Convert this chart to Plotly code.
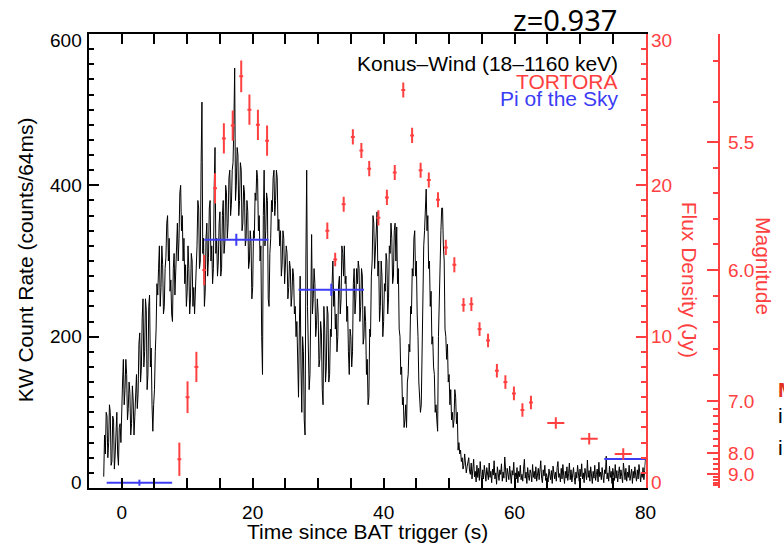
import plotly.graph_objects as go

# Konus-Wind light curve (18-1160 keV), counts per 64 ms.
# One row per second of data, 8 samples per row (0.125 s apart), first row starts at -2.75 s.
KW_T0 = -2.75
KW_STEP = 0.125
kw_rows = [
    [15, 70, 45, 100, 95, 40, 60, 110],
    [100, 30, 35, 95, 90, 25, 45, 95],
    [100, 45, 30, 80, 85, 60, 125, 140],
    [170, 110, 130, 170, 150, 90, 105, 140],
    [125, 70, 85, 135, 115, 70, 95, 130],
    [150, 105, 125, 190, 205, 140, 160, 225],
    [250, 160, 180, 250, 235, 130, 150, 240],
    [255, 160, 185, 110, 75, 110, 130, 180],
    [210, 270, 255, 290, 320, 240, 265, 320],
    [295, 230, 240, 290, 305, 350, 360, 300],
    [330, 260, 275, 230, 220, 290, 310, 255],
    [285, 340, 350, 300, 330, 390, 400, 340],
    [360, 300, 330, 270, 295, 240, 260, 320],
    [290, 230, 250, 310, 300, 240, 265, 230],
    [255, 300, 320, 380, 370, 290, 300, 430],
    [510, 310, 330, 240, 260, 330, 350, 280],
    [305, 370, 380, 300, 320, 270, 290, 400],
    [450, 310, 330, 280, 300, 350, 365, 280],
    [290, 360, 380, 310, 325, 400, 390, 330],
    [350, 410, 420, 360, 375, 420, 430, 480],
    [555, 380, 400, 450, 440, 360, 380, 430],
    [420, 340, 350, 400, 390, 320, 330, 380],
    [365, 290, 300, 340, 325, 250, 265, 340],
    [330, 390, 380, 420, 410, 340, 360, 300],
    [320, 200, 150, 360, 420, 320, 340, 390],
    [380, 250, 240, 310, 330, 380, 365, 410],
    [420, 360, 380, 420, 410, 340, 355, 320],
    [340, 280, 295, 340, 330, 270, 290, 320],
    [310, 250, 265, 300, 290, 240, 255, 290],
    [280, 230, 240, 200, 220, 150, 120, 210],
    [280, 160, 100, 200, 180, 90, 70, 300],
    [420, 240, 200, 130, 150, 290, 335, 230],
    [250, 290, 270, 200, 215, 250, 230, 160],
    [170, 220, 205, 130, 110, 240, 210, 140],
    [160, 240, 230, 140, 150, 210, 200, 270],
    [300, 240, 260, 210, 230, 180, 200, 270],
    [280, 230, 250, 320, 310, 280, 320, 270],
    [280, 220, 240, 180, 150, 210, 200, 160],
    [180, 270, 290, 230, 250, 290, 270, 300],
    [290, 220, 240, 290, 280, 190, 200, 240],
    [220, 150, 170, 110, 120, 210, 200, 280],
    [300, 360, 350, 290, 310, 340, 365, 280],
    [300, 220, 240, 300, 280, 200, 220, 270],
    [260, 310, 300, 230, 250, 320, 310, 350],
    [330, 270, 280, 340, 350, 300, 345, 270],
    [290, 210, 200, 150, 160, 110, 120, 80],
    [90, 110, 80, 140, 150, 190, 180, 240],
    [230, 290, 280, 330, 340, 280, 300, 230],
    [200, 140, 120, 100, 110, 200, 250, 320],
    [340, 380, 395, 340, 360, 290, 300, 240],
    [260, 190, 200, 160, 150, 100, 110, 90],
    [75, 200, 250, 330, 340, 370, 370, 320],
    [300, 210, 200, 170, 190, 140, 150, 110],
    [130, 90, 100, 80, 90, 130, 120, 85],
    [100, 50, 60, 45, 50, 35, 40, 25],
    [30, 45, 35, 20, 28, 38, 40, 22],
    [18, 33, 12, 25, 38, 15, 22, 8],
    [30, 14, 26, 10, 35, 18, 6, 24],
    [12, 30, 16, 9, 27, 20, 11, 33],
    [14, 22, 7, 25, 17, 36, 12, 20],
    [5, 28, 15, 10, 24, 18, 32, 9],
    [21, 13, 41, 16, 8, 26, 19, 11],
    [29, 14, 6, 23, 17, 34, 10, 20],
    [12, 27, 7, 22, 15, 30, 11, 18],
    [9, 25, 38, 13, 21, 6, 27, 16],
    [10, 24, 19, 8, 31, 14, 22, 12],
    [28, 9, 17, 26, 11, 20, 36, 13],
    [7, 24, 16, 30, 10, 19, 14, 8],
    [25, 18, 11, 23, 6, 29, 15, 12],
    [21, 9, 27, 35, 14, 19, 8, 26],
    [12, 31, 17, 6, 22, 13, 28, 10],
    [19, 33, 11, 24, 8, 16, 27, 14],
    [5, 21, 13, 30, 18, 9, 25, 15],
    [32, 12, 20, 7, 26, 17, 11, 37],
    [14, 23, 9, 28, 16, 6, 22, 13],
    [30, 10, 18, 25, 8, 34, 15, 21],
    [11, 27, 16, 7, 24, 19, 42, 12],
    [20, 9, 29, 14, 22, 6, 26, 17],
    [10, 31, 13, 23, 8, 19, 28, 12],
    [24, 15, 7, 33, 18, 11, 26, 9],
    [21, 14, 30, 10, 17, 25, 6, 22],
    [13, 28, 16, 9, 24, 12, 31, 18],
    [8, 20, 14, 27, 11, 23, 40, 30],
]
kw_counts = [v for row in kw_rows for v in row]
kw_time = [KW_T0 + KW_STEP * i for i in range(len(kw_counts))]

# TORTORA optical flux density (Jy)
tortora_t = [8.8, 10.05, 11.4, 12.6, 14.25, 15.6, 16.95, 18.25, 19.5, 20.8, 22.2,
             31.4, 32.6, 33.9, 35.3, 36.6, 37.8, 39.2, 40.5, 41.7, 43.0, 44.35, 45.65,
             46.9, 48.3, 49.5, 50.8, 52.2, 53.4, 54.65, 55.95, 57.3, 58.6, 59.9, 61.2,
             62.5, 66.3, 71.4, 76.6]
tortora_t_err = [0.3] * 36 + [1.3, 1.3, 1.3]
tortora_flux = [1.9, 6.0, 8.0, 14.4, 19.8, 23.1, 23.95, 27.2, 25.0, 24.0, 22.95,
                17.0, 15.1, 18.75, 23.2, 22.3, 21.1, 17.85, 19.2, 20.85, 26.3, 23.3, 21.0,
                20.35, 19.05, 15.9, 14.75, 12.1, 12.15, 10.5, 9.75, 7.75, 7.0, 6.25, 5.15,
                5.65, 4.3, 3.25, 2.25]
tortora_flux_err = [1.1, 1.05, 1.0, 1.0, 1.0, 1.0, 1.0, 1.05, 1.0, 1.0, 1.0,
                    0.55, 0.45, 0.5, 0.5, 0.5, 0.5, 0.5, 0.5, 0.5, 0.5, 0.5, 0.5,
                    0.5, 0.5, 0.5, 0.5, 0.45, 0.45, 0.45, 0.45, 0.45, 0.45, 0.45, 0.45,
                    0.45, 0.38, 0.38, 0.38]

# Pi of the Sky 10 s exposures (Jy)
pi_t = [2.7, 17.5, 32.0, 78.7]
pi_t_err = [5.0, 4.9, 5.0, 5.0]
pi_flux = [0.35, 16.4, 13.1, 1.92]
pi_flux_err = [0.2, 0.4, 0.4, 0.0]

# Axis tick values
count_ticks = [0, 200, 400, 600]
flux_ticks = [0, 10, 20, 30]

# Magnitude scale on the flux axis
MAG_ZERO_JY = 3620.0
mag_labels = [5.5, 6.0, 7.0, 8.0, 9.0]
mag_text = ["5.5", "6.0", "7.0", "8.0", "9.0"]


def mag_to_jy(m):
    return MAG_ZERO_JY * 10 ** (-0.4 * m)


# minor ticks: even subdivisions between successive magnitude marks
minor_jy = []
for (m_a, m_b, n) in [(5.0, 5.5, 5), (5.5, 6.0, 5), (6.0, 7.0, 5), (7.0, 8.0, 7), (8.0, 9.0, 4)]:
    fa, fb = mag_to_jy(m_a), mag_to_jy(m_b)
    for k in range(1, n):
        v = fa + (fb - fa) * k / n
        if v < 30:
            minor_jy.append(v)
f9 = mag_to_jy(9.0)
for k in range(1, 5):
    minor_jy.append(f9 - f9 * k / 5)

RED = "#ff4040"
BLUE = "#3c3cf5"
FONT = "Liberation Sans, Arial, sans-serif"

W, H = 784, 546
ML, MR, MT, MB = 89, 20, 34, 58
PW = W - ML - MR
PH = H - MT - MB


def px_x(px):
    return (px - ML) / PW


def px_y(py):
    return (H - MB - py) / PH


fig = go.Figure()

fig.add_trace(go.Scatter(
    x=kw_time, y=kw_counts, mode="lines",
    line=dict(color="black", width=1), yaxis="y", showlegend=False,
))

fig.add_trace(go.Scatter(
    x=pi_t, y=pi_flux, mode="markers", yaxis="y2",
    marker=dict(size=1, color=BLUE),
    error_x=dict(type="data", array=pi_t_err, color=BLUE, thickness=2, width=0),
    error_y=dict(type="data", array=pi_flux_err, color=BLUE, thickness=2, width=0),
    showlegend=False,
))

fig.add_trace(go.Scatter(
    x=tortora_t, y=tortora_flux, mode="markers", yaxis="y2",
    marker=dict(size=1, color=RED),
    error_x=dict(type="data", array=tortora_t_err, color=RED, thickness=2, width=0),
    error_y=dict(type="data", array=tortora_flux_err, color=RED, thickness=2, width=0),
    showlegend=False,
))

# empty trace so the magnitude axis is laid out
fig.add_trace(go.Scatter(x=[], y=[], yaxis="y3", showlegend=False, hoverinfo="skip"))

tick_font = dict(family=FONT, size=19, color="black")

fig.update_layout(
    width=W, height=H,
    margin=dict(l=ML, r=MR, t=MT, b=MB),
    paper_bgcolor="white", plot_bgcolor="white",
    xaxis=dict(
        domain=[0, px_x(648)], range=[-5, 80],
        tick0=0, dtick=20, ticks="inside", ticklen=10, tickwidth=1.5, tickcolor="black",
        minor=dict(tick0=0, dtick=5, ticks="inside", ticklen=5, tickwidth=1.5,
                   tickcolor="black", showgrid=False),
        showline=True, linecolor="black", linewidth=2, mirror="allticks",
        showgrid=False, zeroline=False, tickfont=tick_font, ticklabelstandoff=6,
    ),
    yaxis=dict(
        range=[0, 600], tickmode="array", tickvals=count_ticks,
        ticks="inside", ticklen=10, tickwidth=1.5, tickcolor="black",
        minor=dict(tick0=0, dtick=20, ticks="inside", ticklen=5, tickwidth=1.5,
                   tickcolor="black", showgrid=False),
        showline=True, linecolor="black", linewidth=2,
        showgrid=False, zeroline=False, showticklabels=False,
    ),
    yaxis2=dict(
        overlaying="y", side="right", anchor="x", range=[0, 30],
        tickmode="array", tickvals=flux_ticks,
        ticks="inside", ticklen=10, tickwidth=1.5, tickcolor=RED,
        minor=dict(tick0=0, dtick=1, ticks="inside", ticklen=5, tickwidth=1.5,
                   tickcolor=RED, showgrid=False),
        showline=True, linecolor=RED, linewidth=2,
        showgrid=False, zeroline=False, showticklabels=False,
    ),
    yaxis3=dict(
        overlaying="y", side="right", anchor="free", position=px_x(722), range=[0, 30],
        tickmode="array", tickvals=[mag_to_jy(m) for m in mag_labels], ticktext=mag_text,
        ticks="inside", ticklen=11, tickwidth=1.5, tickcolor=RED,
        minor=dict(tickmode="array", tickvals=minor_jy, ticks="inside", ticklen=5,
                   tickwidth=1.5, tickcolor=RED, showgrid=False),
        showline=True, linecolor=RED, linewidth=2,
        showgrid=False, zeroline=False,
        tickfont=dict(family=FONT, size=19, color=RED), ticklabelstandoff=4,
    ),
)

TXT = 21
annotations = [
    dict(text="Time since BAT trigger (s)", x=px_x(369), y=px_y(531),
         font=dict(family=FONT, size=TXT, color="black"), xanchor="center", yanchor="middle"),
    dict(text="KW Count Rate (counts/64ms)", x=px_x(25), y=px_y(260), textangle=-90,
         font=dict(family=FONT, size=TXT, color="black"), xanchor="center", yanchor="middle"),
    dict(text="Flux Density (Jy)", x=px_x(693), y=px_y(280), textangle=90,
         font=dict(family=FONT, size=TXT, color=RED), xanchor="center", yanchor="middle"),
    dict(text="Magnitude", x=px_x(767), y=px_y(266), textangle=90,
         font=dict(family=FONT, size=TXT, color=RED), xanchor="center", yanchor="middle"),
    dict(text="Konus–Wind (18–1160 keV)", x=px_x(622), y=px_y(64),
         font=dict(family=FONT, size=TXT, color="black"), xanchor="right", yanchor="middle"),
    dict(text="TORTORA", x=px_x(622), y=px_y(81),
         font=dict(family=FONT, size=TXT, color=RED), xanchor="right", yanchor="middle"),
    dict(text="Pi of the Sky", x=px_x(622), y=px_y(98),
         font=dict(family=FONT, size=TXT, color=BLUE), xanchor="right", yanchor="middle"),
    dict(text="z=0.937", x=px_x(621), y=px_y(20),
         font=dict(family="Noto Sans, sans-serif", size=29, color="black"),
         xanchor="right", yanchor="middle"),
    dict(text="<b>M</b>", x=px_x(779), y=px_y(389),
         font=dict(family=FONT, size=TXT, color="#e03020"), xanchor="left", yanchor="middle"),
    dict(text="i", x=px_x(779), y=px_y(415),
         font=dict(family=FONT, size=TXT, color="black"), xanchor="left", yanchor="middle"),
    dict(text="i", x=px_x(779), y=px_y(447),
         font=dict(family=FONT, size=TXT, color="black"), xanchor="left", yanchor="middle"),
]
for a in annotations:
    a.update(xref="paper", yref="paper")


# tick labels of the two plot-frame y axes; the end labels sit just inside the frame
def end_shift(i, n):
    return 6 if i == 0 else (-6 if i == n - 1 else 0)


for i, v in enumerate(count_ticks):
    annotations.append(dict(
        text=str(v), xref="paper", x=px_x(84), xanchor="right",
        yref="y", y=v, yanchor="middle", yshift=end_shift(i, len(count_ticks)),
        font=dict(family=FONT, size=19, color="black"),
    ))
for i, v in enumerate(flux_ticks):
    annotations.append(dict(
        text=str(v), xref="paper", x=px_x(651), xanchor="left",
        yref="y2", y=v, yanchor="middle", yshift=end_shift(i, len(flux_ticks)),
        font=dict(family=FONT, size=19, color=RED),
    ))

for a in annotations:
    a["showarrow"] = False
fig.update_layout(annotations=annotations)

fig.write_html("out.html")
